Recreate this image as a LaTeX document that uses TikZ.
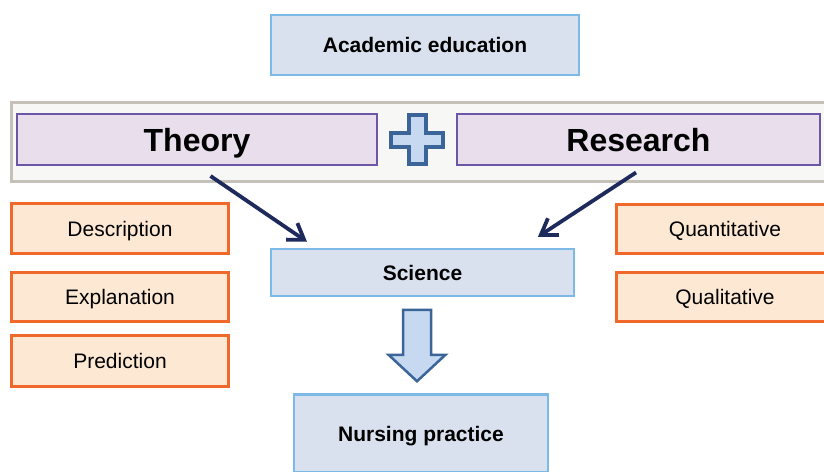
\documentclass[tikz,border=0pt]{standalone}
\usepackage{fontspec}
\setmainfont{Liberation Sans}
\usetikzlibrary{arrows.meta,calc}
\definecolor{bluefill}{HTML}{DAE1EE}
\definecolor{blueline}{HTML}{7DB9E6}
\definecolor{purfill}{HTML}{E8DEEC}
\definecolor{purline}{HTML}{6B57A6}
\definecolor{barfill}{HTML}{F7F7F5}
\definecolor{barline}{HTML}{C5C1B8}
\definecolor{orfill}{HTML}{FDE9D3}
\definecolor{orline}{HTML}{F0692A}
\definecolor{navy}{HTML}{1E2A5C}
\definecolor{plusline}{HTML}{3B6598}
\definecolor{plusfill}{HTML}{C6D9F0}
\tikzset{
  bluebox/.style={draw=blueline, fill=bluefill, line width=2.5pt, inner sep=0pt,
    font=\fontsize{21}{25}\selectfont\bfseries, text height=15pt, text depth=0pt},
  purbox/.style={draw=purline, fill=purfill, line width=2pt, inner sep=0pt,
    font=\fontsize{32}{38}\selectfont\bfseries, text height=23pt, text depth=0pt},
  orbox/.style={draw=orline, fill=orfill, line width=3pt, inner sep=0pt,
    font=\fontsize{21}{25}\selectfont, text height=15pt, text depth=0pt},
  linkarrow/.style={draw=navy, line width=3.8pt,
    -{Straight Barb[length=15pt,width=20pt]}},
  plussign/.style={draw=plusline, fill=plusfill, line width=4pt, line join=miter},
  bigarrow/.style={draw=plusline, fill=plusfill, line width=2.5pt, line join=miter},
}
\begin{document}
\begin{tikzpicture}[x=1pt,y=-1pt]
\useasboundingbox (0,0) rectangle (824,471);
\clip (0,0) rectangle (824,471);
\fill[white] (0,0) rectangle (824,471);
% bar
\draw[draw=barline, fill=barfill, line width=3pt] (11,102.5) rectangle (830,181);
% nodes
\node[bluebox, minimum width=308pt, minimum height=60pt] (acad) at (425,45) {Academic education};
\node[purbox, minimum width=360pt, minimum height=51pt] (theory) at (197,139.5) {Theory};
\node[purbox, minimum width=363pt, minimum height=51pt] (research) at (638.5,139.5) {Research};
\node[bluebox, minimum width=303pt, minimum height=47pt] (science) at (422.5,272.5) {Science};
\node[bluebox, minimum width=254pt, minimum height=78pt] (nursing) at (421,433.5) {Nursing practice};
\node[orbox, minimum width=217pt, minimum height=50pt] (desc) at (120,228.5) {Description};
\node[orbox, minimum width=217pt, minimum height=49pt] (expl) at (120,297) {Explanation};
\node[orbox, minimum width=217pt, minimum height=51pt] (pred) at (120,361) {Prediction};
\node[orbox, minimum width=217pt, minimum height=49pt] (quan) at (725,229) {Quantitative};
\node[orbox, minimum width=217pt, minimum height=49pt] (qual) at (725,297) {Qualitative};
% plus sign between Theory and Research
\coordinate (pc) at ($(theory.east)!0.5!(research.west)$);
\draw[plussign] (pc) ++(-8.5,-24.5) -- ++(17,0) -- ++(0,17.5) -- ++(17.5,0) -- ++(0,14)
  -- ++(-17.5,0) -- ++(0,17.5) -- ++(-17,0) -- ++(0,-17.5) -- ++(-17.5,0) -- ++(0,-14)
  -- ++(17.5,0) -- cycle;
% connectors
\coordinate (t1) at ([xshift=13.5pt,yshift=-10pt]theory.south);
\coordinate (t2) at ([xshift=-115.5pt,yshift=6pt]science.north);
\coordinate (r1) at ([xshift=-2.5pt,yshift=-6.5pt]research.south);
\coordinate (r2) at ([xshift=115.5pt,yshift=11pt]science.north);
\draw[linkarrow] (t1) -- (t2);
\draw[linkarrow] (r1) -- (r2);
% block arrow from Science to Nursing practice
\coordinate (ba) at ([xshift=-5.5pt,yshift=-12.5pt]science.south);
\coordinate (bb) at ([xshift=-4pt,yshift=12pt]nursing.north);
\draw[bigarrow] (ba) ++(-14,0) -- ++(28,0) -- ($(bb)+(14,-26.5)$) -- ($(bb)+(28.5,-26.5)$)
  -- (bb) -- ($(bb)+(-28.5,-26.5)$) -- ($(bb)+(-14,-26.5)$) -- cycle;
\end{tikzpicture}
\end{document}
